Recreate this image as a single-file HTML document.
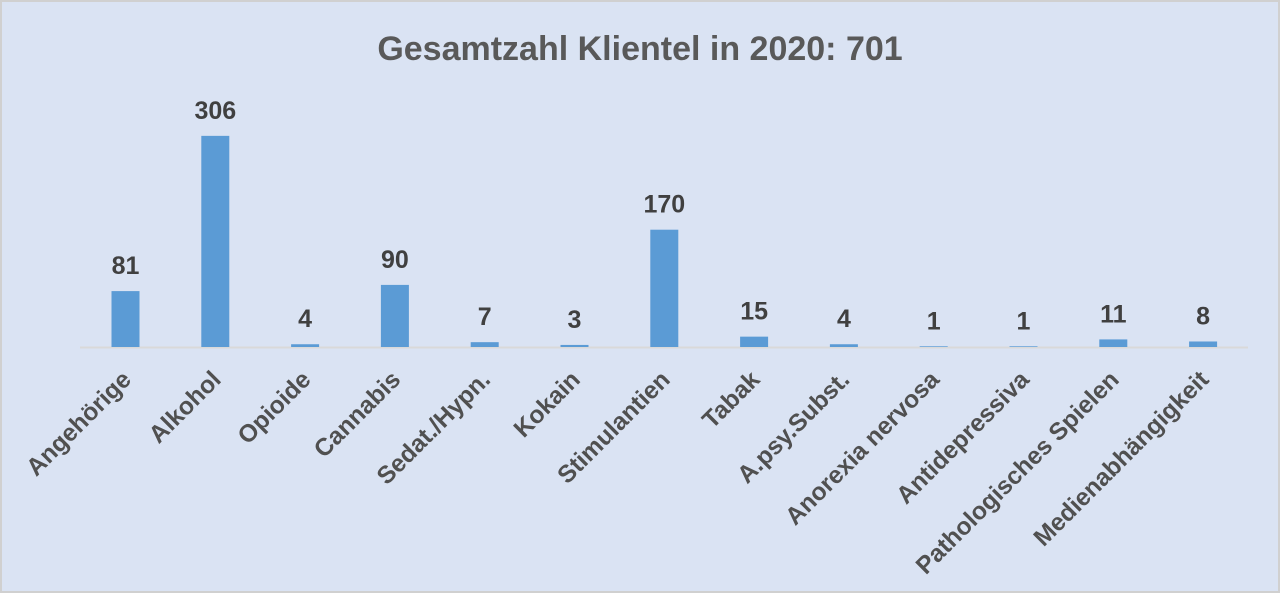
<!DOCTYPE html>
<html><head><meta charset="utf-8"><style>
html,body{margin:0;padding:0;background:#dae3f3;}
svg{display:block;}
text{font-family:"Liberation Sans",sans-serif;fill:#595959;}
</style></head><body>
<svg width="1280" height="593" viewBox="0 0 1280 593">
<rect x="0" y="0" width="1280" height="593" fill="#dae3f3"/>
<rect x="1" y="1" width="1278" height="591" fill="none" stroke="#d0d0d0" stroke-width="2"/>
<text x="640" y="60" text-anchor="middle" font-size="34" font-weight="bold">Gesamtzahl Klientel in 2020: 701</text>
<line x1="80" y1="347.5" x2="1248" y2="347.5" stroke="#d9d9d9" stroke-width="2"/>
<g id="bars"></g>
</svg>
<script>
var d=[["Angehörige",81],["Alkohol",306],["Opioide",4],["Cannabis",90],["Sedat./Hypn.",7],["Kokain",3],["Stimulantien",170],["Tabak",15],["A.psy.Subst.",4],["Anorexia nervosa",1],["Antidepressiva",1],["Pathologisches Spielen",11],["Medienabhängigkeit",8]];
var g=document.getElementById("bars"),s="";
d.forEach(function(e,i){var c=125.5+i*89.8,h=e[1]*0.69,t=347-h;
s+='<rect x="'+(c-14)+'" y="'+t+'" width="28" height="'+h+'" fill="#5b9bd5"/>';
s+='<text x="'+c+'" y="'+(t-17)+'" text-anchor="middle" font-size="25" font-weight="bold" style="fill:#404040">'+e[1]+'</text>';
s+='<text transform="translate('+(c+7)+',381) rotate(-45)" text-anchor="end" font-size="24.5" font-weight="bold" style="fill:#505050">'+e[0]+'</text>';});
g.innerHTML=s;
</script>
</body></html>
